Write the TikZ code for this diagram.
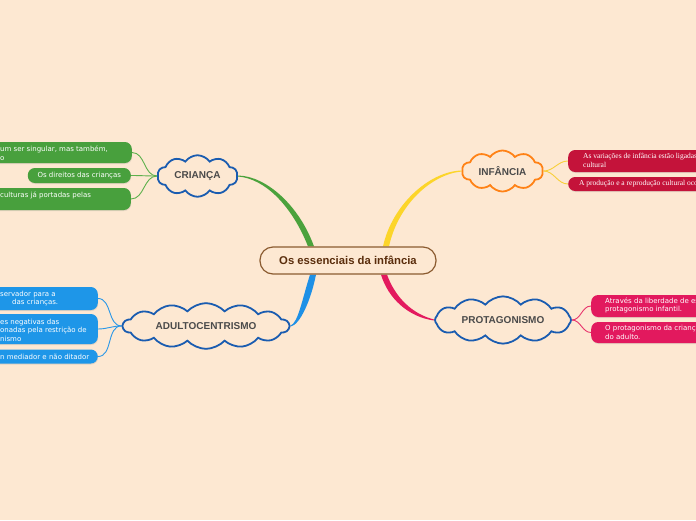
\documentclass[tikz,border=0pt]{standalone}
\usepackage{fontspec}
\setmainfont{Liberation Sans}
\newfontfamily\leaffont{DejaVu Sans}
\newfontfamily\serifleaf{Liberation Serif}
\usetikzlibrary{shapes.symbols,shadows,backgrounds,calc}
\definecolor{bg}{HTML}{FDE8D2}
\definecolor{rootborder}{HTML}{8B5B30}
\definecolor{roottext}{HTML}{5A2D0C}
\definecolor{cblue}{HTML}{1A5CB0}
\definecolor{corange}{HTML}{FF8216}
\definecolor{ctext}{HTML}{4A4A4A}
\definecolor{tgreen}{HTML}{4BA23C}
\definecolor{tyellow}{HTML}{FCD52A}
\definecolor{tblue}{HTML}{1E90E6}
\definecolor{tpink}{HTML}{E31A5E}
\definecolor{lgreen}{HTML}{48A03D}
\definecolor{lblue}{HTML}{1E96E8}
\definecolor{lcrimson}{HTML}{C4133A}
\definecolor{lpink}{HTML}{E2195E}
\definecolor{wgreen}{HTML}{5DB04C}
\definecolor{wyellow}{HTML}{F8CF3A}
\definecolor{wblue}{HTML}{2A97E8}
\definecolor{wpink}{HTML}{E8336C}
\tikzset{
  cloudbox/.style={cloud, cloud puff arc=110, draw, line width=1.8pt,
    fill=bg, font=\bfseries\fontsize{10}{11}\selectfont, text=ctext, inner sep=0pt},
  leafbox/.style={rectangle, rounded corners=7pt, inner sep=0pt, text=white,
    drop shadow={opacity=0.2, shadow xshift=0.4pt, shadow yshift=-1pt}},
  leaftext/.style={text=white, inner sep=0pt, align=left,
    font=\leaffont\fontsize{7}{8.6}\selectfont},
  serftext/.style={text=white, inner sep=0pt, align=left,
    font=\serifleaf\fontsize{7.5}{9}\selectfont},
  twig/.style={line width=0.9pt},
  rootbox/.style={draw=rootborder, line width=1.2pt, fill=bg, rounded corners=13pt,
    minimum width=176pt, minimum height=27pt, font=\bfseries\fontsize{11.3}{12}\selectfont,
    text=roottext, inner sep=0pt}
}
\begin{document}
\begin{tikzpicture}[x=1pt,y=-1pt]
\useasboundingbox (0,0) rectangle (696,520);
\clip (0,0) rectangle (696,520);

% central topic
\node[rootbox] (root) at (348,260.5) {Os essenciais da infância};

% main topics
\node[cloudbox, draw=cblue, cloud puffs=10, aspect=2, minimum width=80pt, minimum height=40pt] (crianca) at (197.5,176) {CRIANÇA};
\node[cloudbox, draw=corange, cloud puffs=10, aspect=2.13, minimum width=81pt, minimum height=38pt] (infancia) at (502.5,171) {INFÂNCIA};
\node[cloudbox, draw=cblue, cloud puffs=14, cloud puff arc=95, aspect=4.37, minimum width=166pt, minimum height=38pt] (adult) at (206,326) {ADULTOCENTRISMO};
\node[cloudbox, draw=cblue, cloud puffs=12, cloud puff arc=100, aspect=3.4, minimum width=136pt, minimum height=40pt] (protag) at (503,320) {PROTAGONISMO};

% CRIANÇA leaves
\node[leafbox, fill=lgreen, minimum width=152pt, minimum height=21pt, anchor=east] (c1) at (132,152.5) {};
\node[leafbox, fill=lgreen, minimum width=103pt, minimum height=15pt, anchor=east, font=\leaffont\fontsize{7}{8.6}\selectfont] (c2) at (131,175.5) {Os direitos das crianças};
\node[leafbox, fill=lgreen, minimum width=151pt, minimum height=22pt, anchor=east] (c3) at (131,199) {};
\node[leaftext, anchor=west] (c1t) at (0,153.5) {um ser singular, mas também,\\o};
\node[leaftext, anchor=west] (c3t) at (0,195) {culturas já portadas pelas};

% INFÂNCIA leaves
\node[leafbox, fill=lcrimson, minimum width=152pt, minimum height=22pt, anchor=west] (i1) at (568,161) {};
\node[leafbox, fill=lcrimson, minimum width=152pt, minimum height=14pt, anchor=west] (i2) at (568,184) {};
\node[serftext, anchor=west] (i1t) at (583,160.5) {As variações de infância estão ligadas\\cultural};
\node[serftext, anchor=west] (i2t) at (579,184) {A produção e a reprodução cultural oco};

% ADULTOCENTRISMO leaves
\node[leafbox, fill=lblue, minimum width=118pt, minimum height=23pt, anchor=east] (a1) at (98,298.5) {};
\node[leafbox, fill=lblue, minimum width=118pt, minimum height=30pt, anchor=east] (a2) at (98,329) {};
\node[leafbox, fill=lblue, minimum width=118pt, minimum height=14pt, anchor=east] (a3) at (98,356.5) {};
\node[leaftext, anchor=west] (a1t) at (0,295) {servador para a};
\node[leaftext, anchor=west] (a1u) at (12,303) {das crianças.};
\node[leaftext, anchor=west] (a2t) at (0,330) {es negativas das\\onadas pela restrição de\\nismo};
\node[leaftext, anchor=west] (a3t) at (0,356.5) {n mediador e não ditador};

% PROTAGONISMO leaves
\node[leafbox, fill=lpink, minimum width=130pt, minimum height=22pt, anchor=west] (p1) at (591,306) {};
\node[leafbox, fill=lpink, minimum width=130pt, minimum height=21pt, anchor=west] (p2) at (591,332.5) {};
\node[leaftext, anchor=west] (p1t) at (605,305.5) {Através da liberdade de es\\protagonismo infantil.};
\node[leaftext, anchor=west] (p2t) at (605,332.5) {O protagonismo da criança\\do adulto.};

\begin{pgfonlayer}{background}
\fill[bg] (0,0) rectangle (696,520);
% tapered main branches
\fill[tgreen] ([xshift=-40pt]root.north) .. controls (292,206) and (265,178.5) .. ([yshift=-0.5pt]crianca.east)
  -- ([yshift=0.5pt]crianca.east) .. controls (266,176) and (299,205) .. ([xshift=-34pt]root.north) -- cycle;
\fill[tyellow] ([xshift=35pt]root.north) .. controls (392,205) and (429,171.5) .. ([yshift=0.5pt]infancia.west)
  -- ([yshift=-0.5pt]infancia.west) .. controls (431,174.5) and (398,205) .. ([xshift=41pt]root.north) -- cycle;
\fill[tblue] ([xshift=-38pt]root.south) .. controls (302,300) and (298,323) .. ([yshift=0.5pt]adult.east)
  -- ([yshift=-0.5pt]adult.east) .. controls (300,325) and (311,300) .. ([xshift=-32pt]root.south) -- cycle;
\fill[tpink] ([xshift=33pt]root.south) .. controls (388,298) and (408,317) .. ([yshift=-0.5pt]protag.west)
  -- ([yshift=0.5pt]protag.west) .. controls (412,314) and (395,297) .. ([xshift=39pt]root.south) -- cycle;
% twigs
\draw[twig, wgreen] (c1.east) to[out=0,in=180] (crianca.west);
\draw[twig, wgreen] (c2.east) to[out=0,in=180] (crianca.west);
\draw[twig, wgreen] (c3.east) to[out=0,in=180] (crianca.west);
\draw[twig, wyellow] (infancia.east) to[out=0,in=180] (i1.west);
\draw[twig, wyellow] (infancia.east) to[out=0,in=180] (i2.west);
\draw[twig, wblue] (a1.east) to[out=0,in=180] (adult.west);
\draw[twig, wblue] (a2.east) to[out=0,in=180] (adult.west);
\draw[twig, wblue] (a3.east) to[out=0,in=180] (adult.west);
\draw[twig, wpink] (protag.east) to[out=0,in=180] (p1.west);
\draw[twig, wpink] (protag.east) to[out=0,in=180] (p2.west);
\end{pgfonlayer}
\end{tikzpicture}
\end{document}
